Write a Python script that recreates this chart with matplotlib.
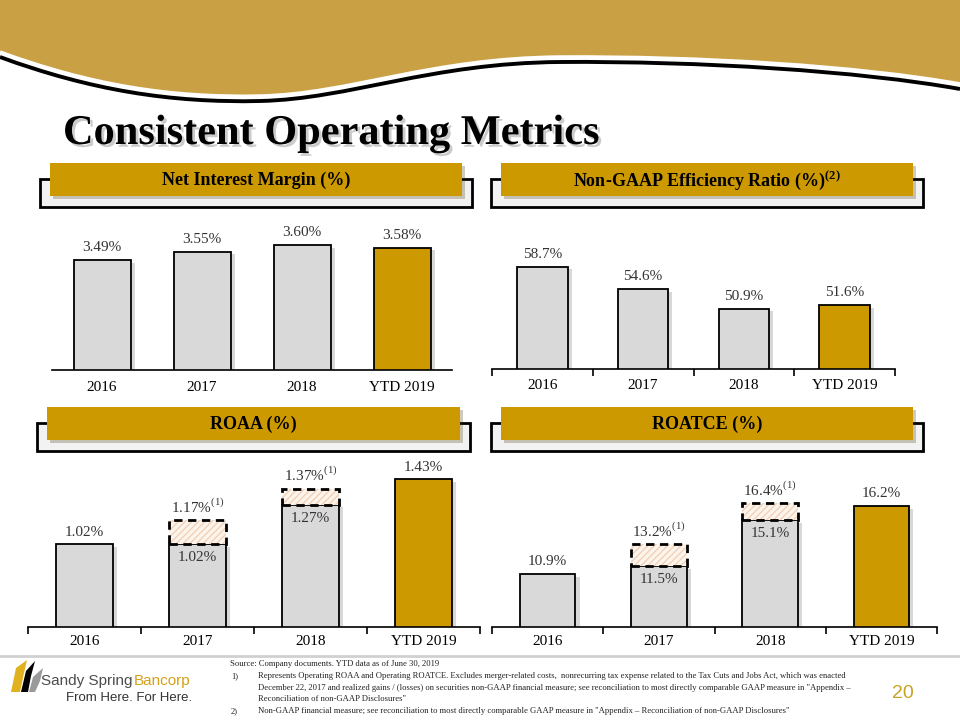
import numpy as np
import matplotlib
matplotlib.use("Agg")
import matplotlib.pyplot as plt
import matplotlib.patheffects as pe
from matplotlib.patches import Rectangle, PathPatch, Polygon
from matplotlib.path import Path

# ------- 数据 -------
years = ["2016", "2017", "2018", "YTD 2019"]
nim = [3.49, 3.55, 3.60, 3.58]
eff = [58.7, 54.6, 50.9, 51.6]
roaa = [1.02, 1.02, 1.27, 1.43]
roaa_adj = [None, 1.17, 1.37, None]
roatce = [10.9, 11.5, 15.1, 16.2]
roatce_adj = [None, 13.2, 16.4, None]

GOLD = "#cc9900"
BANNER = "#c9a144"
GREY = "#d9d9d9"
SERIF = ["Liberation Serif", "DejaVu Serif"]
plt.rcParams.update({"font.family": SERIF, "mathtext.fontset": "custom",
                     "mathtext.rm": "Liberation Serif",
                     "mathtext.bf": "Liberation Serif:bold"})

fig = plt.figure(figsize=(9.6, 7.2), dpi=100)
bg = fig.add_axes([0, 0, 1, 1], zorder=0)
bg.set_xlim(0, 960); bg.set_ylim(720, 0); bg.axis("off")

# banner (装饰波浪)
verts = [(0, 52), (90, 85), (170, 98), (260, 96), (350, 94), (430, 58), (560, 57),
         (700, 56), (860, 66), (960, 84)]
codes = [Path.MOVETO] + [Path.CURVE4] * 9
wave = Path(verts, codes)
top = Path(verts + [(960, 0), (0, 0), (0, 52)], codes + [Path.LINETO] * 3)
bg.add_patch(PathPatch(top, fc=BANNER, ec="none"))
shift = Path([(x, y + 5) for x, y in verts], codes)
bg.add_patch(PathPatch(shift, fc="none", ec="black", lw=2.8))
bg.add_patch(PathPatch(wave, fc="none", ec="white", lw=2.5))

# title
bg.text(63, 134, "Consistent Operating Metrics", fontsize=30.5, fontweight="bold",
        va="center", ha="left",
        path_effects=[pe.SimplePatchShadow(offset=(2, -2), shadow_rgbFace="#999999", alpha=0.5),
                      pe.Normal()])

# panel headers
def header(x0, x1, y0, title):
    bg.add_patch(Rectangle((x0 - 10, y0 + 16), x1 - x0 + 20, 28, fc="#f2f2f2", ec="black", lw=2))
    bg.add_patch(Rectangle((x0, y0), x1 - x0, 33, fc=GOLD, ec="none",
                           path_effects=[pe.SimplePatchShadow(offset=(2, -2), alpha=0.25), pe.Normal()]))
    bg.text((x0 + x1) / 2, y0 + 17, title, fontsize=13, fontweight="bold", ha="center", va="center")

header(50, 462, 163, "Net Interest Margin (%)")
header(501, 913, 163, r"Non-GAAP Efficiency Ratio (%)$^{\mathbf{(2)}}$")
header(47, 460, 407, "ROAA (%)")
header(501, 913, 407, "ROATCE (%)")

shadow = [pe.SimplePatchShadow(offset=(3, -2), shadow_rgbFace="#aaaaaa", alpha=0.45), pe.Normal()]


def panel(rect_px, vals, ylim, width, fmt, ticks=True, adj=None, pad=6):
    x0, x1, ytop, ybase = rect_px
    ax = fig.add_axes([x0 / 960, 1 - ybase / 720, (x1 - x0) / 960, (ybase - ytop) / 720], zorder=2)
    ax.patch.set_alpha(0)
    xs = np.arange(len(vals))
    cols = [GREY] * (len(vals) - 1) + [GOLD]
    ax.bar(xs, vals, width=width, bottom=0, color=cols, edgecolor="black", lw=1.3,
           path_effects=shadow)
    ax.set_ylim(*ylim)
    ax.set_xlim(-0.5, len(vals) - 0.5)
    for i, v in enumerate(vals):
        a = adj[i] if adj else None
        if a is None:
            ax.annotate(fmt.format(v), (i, v), xytext=(0, 4), textcoords="offset points",
                        ha="center", va="bottom", fontsize=11, color="#333333")
        else:
            ax.bar(i, a - v, width=width, bottom=v, color="#fdf4ec", edgecolor="#f1d2b8",
                   hatch="/////", lw=0)
            ax.bar(i, a - v, width=width, bottom=v, fill=False, edgecolor="black",
                   lw=2, ls=(0, (3, 2)))
            ax.annotate(fmt.format(a) + r"$^{(1)}$", (i, a), xytext=(0, 4),
                        textcoords="offset points", ha="center", va="bottom",
                        fontsize=11, color="#333333")
            ax.annotate(fmt.format(v), (i, v), xytext=(0, -5), textcoords="offset points",
                        ha="center", va="top", fontsize=11, color="#333333")
    for s in ["top", "left", "right"]:
        ax.spines[s].set_visible(False)
    ax.spines["bottom"].set_linewidth(1.2)
    ax.spines["bottom"].set_position(("data", ylim[0]))
    ax.set_yticks([])
    ax.set_xticks(xs)
    ax.set_xticklabels(years, fontsize=11)
    ax.tick_params(axis="x", which="major", length=0, pad=pad)
    if ticks:
        ax.set_xticks(np.arange(-0.5, len(vals)), minor=True)
        ax.tick_params(axis="x", which="minor", length=5, width=1.2)
    return ax


panel((52, 452, 215, 370), nim, (2.68, 3.82), 0.57, "{:.2f}%", ticks=False, pad=8)
panel((492, 895, 215, 369), eff, (39.7, 68.3), 0.5, "{:.1f}%", pad=7)
panel((28, 480, 455, 627), roaa, (0.495, 1.584), 0.5, "{:.2f}%", adj=roaa_adj)
panel((492, 937, 455, 627), roatce, (6.78, 20.15), 0.5, "{:.1f}%", adj=roatce_adj)

# footer
bg.plot([0, 960], [656, 656], color="#d0d0d0", lw=2)
bg.add_patch(Polygon([(11, 692), (16, 668), (27, 660), (24, 673), (20, 692)], fc="#e0b21f", ec="none"))
bg.add_patch(Polygon([(21, 692), (26, 671), (35, 661), (31, 676), (28, 692)], fc="black", ec="none"))
bg.add_patch(Polygon([(29, 692), (33, 677), (43, 668), (40, 681), (35, 692)], fc="#9a9a9a", ec="none"))
bg.text(41, 681, "Sandy Spring", fontsize=11, family="Liberation Sans", color="#4d4d4d",
        ha="left", va="center")
bg.text(134, 681, "Bancorp", fontsize=11, family="Liberation Sans", color="#d4a017",
        ha="left", va="center")
bg.text(192, 698, "From Here. For Here.", fontsize=9.5, family="Liberation Sans",
        color="#333333", ha="right", va="center")

fn = dict(fontsize=6.2, color="#222222", va="center")
bg.text(230, 664, "Source: Company documents. YTD data as of June 30, 2019", **fn)
bg.text(231, 676, "1)", **fn)
bg.text(258, 676, "Represents Operating ROAA and Operating ROATCE. Excludes merger-related costs,  "
        "nonrecurring tax expense related to the Tax Cuts and Jobs Act, which was enacted", **fn)
bg.text(258, 688, "December 22, 2017 and realized gains / (losses) on securities non-GAAP financial "
        "measure; see reconciliation to most directly comparable GAAP measure in \"Appendix \u2013", **fn)
bg.text(258, 699, "Reconciliation of non-GAAP Disclosures\"", **fn)
bg.text(231, 711, "2)", **fn)
bg.text(258, 711, "Non-GAAP financial measure; see reconciliation to most directly comparable GAAP "
        "measure in \"Appendix \u2013 Reconciliation of non-GAAP Disclosures\"", **fn)
bg.text(903, 694, "20", fontsize=14, family="Liberation Sans", color="#c9a227",
        ha="center", va="center")

fig.savefig("out.png", dpi=100)
